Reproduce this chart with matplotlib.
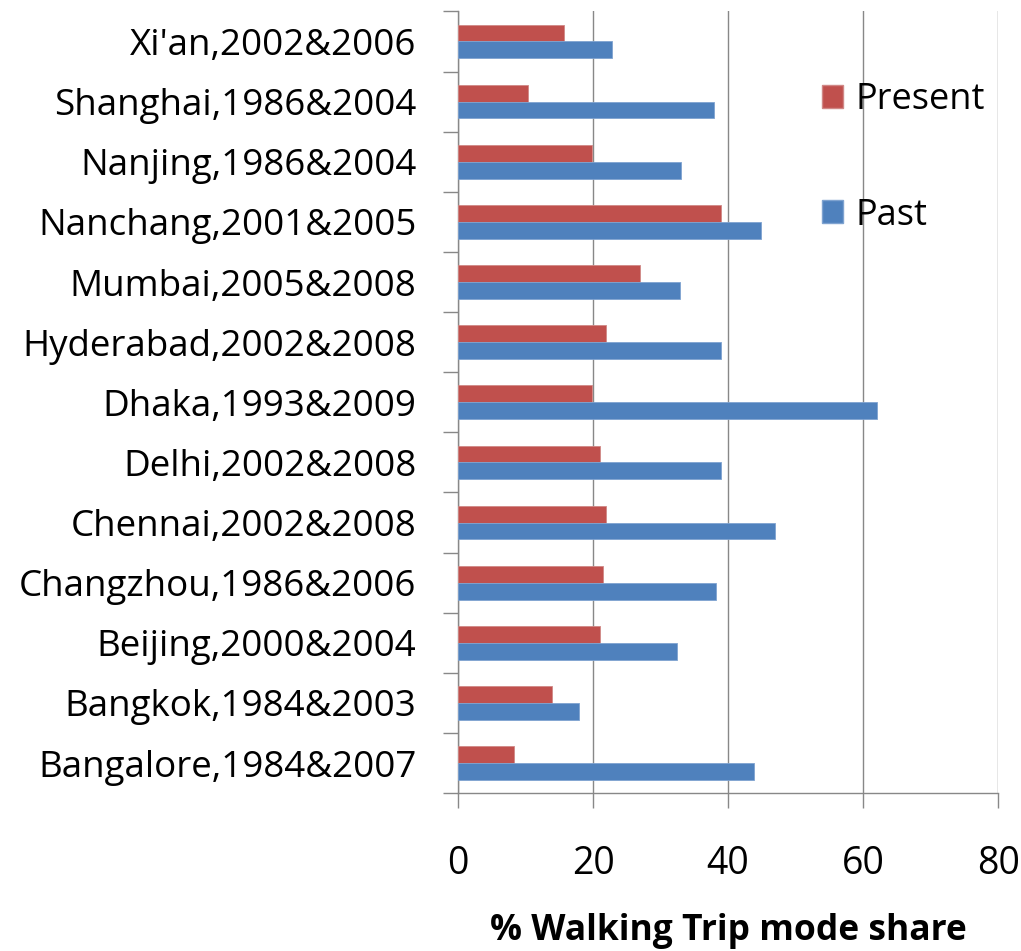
import numpy as np
import matplotlib.pyplot as plt
from matplotlib.patches import Patch

# city labels, bottom to top as drawn
cities = ['Bangalore,1984&2007', 'Bangkok,1984&2003', 'Beijing,2000&2004',
          'Changzhou,1986&2006', 'Chennai,2002&2008', 'Delhi,2002&2008',
          'Dhaka,1993&2009', 'Hyderabad,2002&2008', 'Mumbai,2005&2008',
          'Nanchang,2001&2005', 'Nanjing,1986&2004', 'Shanghai,1986&2004',
          "Xi'an,2002&2006"]
present = [8.3, 13.9, 21.0, 21.5, 21.9, 21.0, 19.9, 21.9, 26.9, 39.0, 19.9, 10.4, 15.7]
past = [43.9, 17.9, 32.5, 38.2, 47.0, 39.0, 62.0, 39.0, 32.9, 44.9, 33.1, 37.9, 22.8]
xticks = [0, 20, 40, 60, 80]

red = '#C0504D'
blue = '#4F81BD'

plt.rcParams['font.family'] = ['Open Sans', 'DejaVu Sans']

fig = plt.figure(figsize=(10.21, 9.51), dpi=100)
ax = fig.add_axes([0.4486, 0.166, 0.529, 0.822])

y = np.arange(len(cities))
h = 0.28
ax.barh(y + h / 2, present, height=h, color=red, edgecolor='#D08886', linewidth=0.6, zorder=3)
ax.barh(y - h / 2, past, height=h, color=blue, edgecolor='#7FA3D0', linewidth=0.6, zorder=3)

ax.set_xlim(0, 80)
ax.set_ylim(-0.5, len(cities) - 0.5)
ax.set_xticks(xticks)
ax.set_xticklabels([str(t) for t in xticks], fontsize=27)
ax.set_yticks(np.arange(len(cities) + 1) - 0.5)
ax.set_yticklabels([])
ax.set_yticks(y, minor=True)
ax.set_yticklabels(cities, minor=True, fontsize=26.5)
ax.tick_params(axis='y', which='minor', length=0, pad=30)
ax.tick_params(axis='y', which='major', length=11, color='#888888', width=1)
ax.tick_params(axis='x', length=11, color='#888888', width=1, pad=26, direction='out')

ax.grid(axis='x', color='#888888', linewidth=1, zorder=0)
for s in ['top', 'right']:
    ax.spines[s].set_visible(False)
for s in ['left', 'bottom']:
    ax.spines[s].set_color('#888888')
    ax.spines[s].set_linewidth(1)

ax.set_xlabel('% Walking Trip mode share', fontsize=25.5, fontweight='bold', labelpad=22)

handles = [Patch(facecolor=red, edgecolor='#D08886'), Patch(facecolor=blue, edgecolor='#7FA3D0')]
ax.legend(handles, ['Present', 'Past'], loc='upper left', bbox_to_anchor=(0.613, 0.951),
          frameon=False, fontsize=26, handlelength=0.6, handleheight=0.6,
          handletextpad=0.35, labelspacing=2.2)

fig.savefig('out.png', dpi=100)
